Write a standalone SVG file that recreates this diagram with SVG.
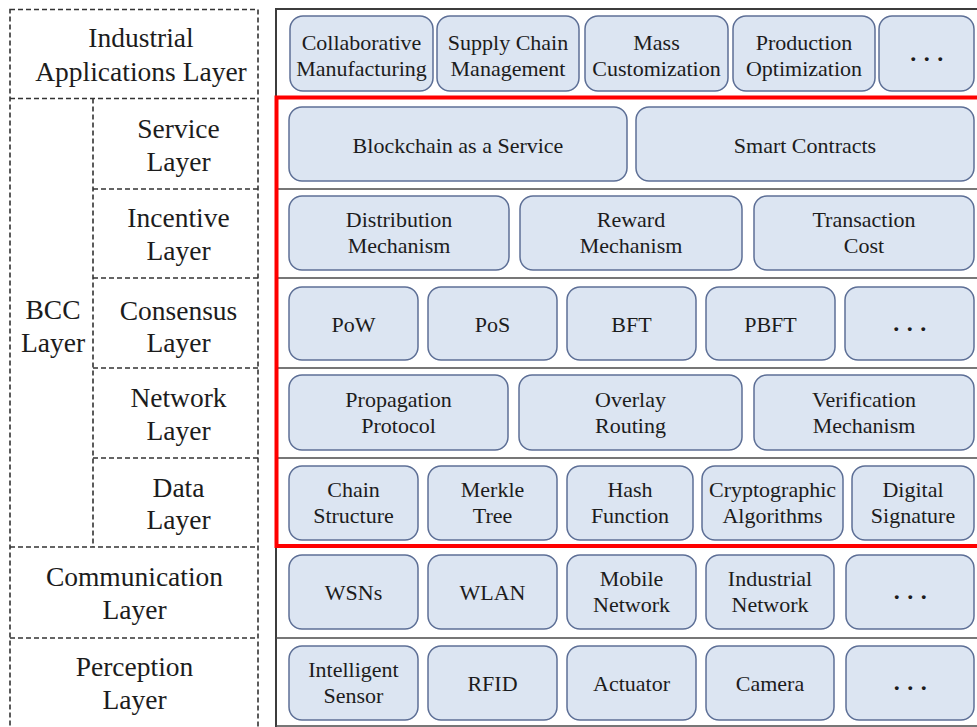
<svg xmlns="http://www.w3.org/2000/svg" width="977" height="727" viewBox="0 0 977 727" font-family="'Liberation Serif', 'Times New Roman', serif">
  <style>
    svg { font-family: "Liberation Serif", "Times New Roman", serif; }
    text { font-family: "Liberation Serif", "Times New Roman", serif; fill: #1c1c1c; text-anchor: middle; }
    .bg { fill: #ffffff; }
    .dash { fill: none; stroke: #333333; stroke-width: 1.6; stroke-dasharray: 5 3; }
    .frame { fill: none; stroke: #3c3c3c; stroke-width: 2; }
    .sep { stroke: #4a4a4a; stroke-width: 1.6; }
    .bcc { fill: none; stroke: #ff0000; stroke-width: 4; }
    .node rect { fill: #dce5f2; stroke: #5d6f96; stroke-width: 1.5; }
    .lbl { font-size: 27.5px; }
    .nt { font-size: 22px; }
    .dots { font-size: 24px; font-weight: bold; letter-spacing: 7.5px; }
  </style>

  <rect class="bg" x="0" y="0" width="977" height="727"/>

  <!-- Left column: layer names in dashed cells -->
  <g id="layer-labels">
    <rect class="dash" x="10" y="9.5" width="248" height="730"/>
    <line class="dash" x1="10" y1="98.5" x2="258" y2="98.5"/>
    <line class="dash" x1="93" y1="189" x2="258" y2="189"/>
    <line class="dash" x1="93" y1="278" x2="258" y2="278"/>
    <line class="dash" x1="93" y1="368" x2="258" y2="368"/>
    <line class="dash" x1="93" y1="458" x2="258" y2="458"/>
    <line class="dash" x1="10" y1="547" x2="258" y2="547"/>
    <line class="dash" x1="10" y1="638" x2="258" y2="638"/>
    <line class="dash" x1="93" y1="98.5" x2="93" y2="547"/>

    <text class="lbl"><tspan x="141" y="47">Industrial</tspan><tspan x="141" y="81">Applications Layer</tspan></text>
    <text class="lbl"><tspan x="178.5" y="138">Service</tspan><tspan x="178.5" y="171">Layer</tspan></text>
    <text class="lbl"><tspan x="178.5" y="227">Incentive</tspan><tspan x="178.5" y="260">Layer</tspan></text>
    <text class="lbl"><tspan x="178.5" y="320">Consensus</tspan><tspan x="178.5" y="352">Layer</tspan></text>
    <text class="lbl"><tspan x="178.5" y="407">Network</tspan><tspan x="178.5" y="440">Layer</tspan></text>
    <text class="lbl"><tspan x="178.5" y="497">Data</tspan><tspan x="178.5" y="529">Layer</tspan></text>
    <text class="lbl"><tspan x="53" y="319">BCC</tspan><tspan x="53" y="352">Layer</tspan></text>
    <text class="lbl"><tspan x="134.5" y="586">Communication</tspan><tspan x="134.5" y="619">Layer</tspan></text>
    <text class="lbl"><tspan x="134.5" y="676">Perception</tspan><tspan x="134.5" y="709">Layer</tspan></text>
  </g>

  <!-- Right panel frame and row separators -->
  <g id="connectors">
    <line class="frame" x1="276" y1="9" x2="977" y2="9"/>
    <line class="frame" x1="276" y1="8" x2="276" y2="727"/>
    <line class="sep" x1="276" y1="189" x2="977" y2="189"/>
    <line class="sep" x1="276" y1="278" x2="977" y2="278"/>
    <line class="sep" x1="276" y1="368" x2="977" y2="368"/>
    <line class="sep" x1="276" y1="458" x2="977" y2="458"/>
    <line class="sep" x1="276" y1="638" x2="977" y2="638"/>
    <line class="sep" x1="276" y1="726" x2="977" y2="726"/>
    <rect class="bcc" x="276.5" y="97.5" width="710" height="448.5"/>
  </g>

  <!-- Industrial Applications Layer -->
  <g id="collaborative-manufacturing" class="node"><rect x="290" y="16" width="143" height="75" rx="13"/><text class="nt"><tspan x="361.5" y="50">Collaborative</tspan><tspan x="361.5" y="76">Manufacturing</tspan></text></g>
  <g id="supply-chain-management" class="node"><rect x="437" y="16" width="142" height="75" rx="13"/><text class="nt"><tspan x="508" y="50">Supply Chain</tspan><tspan x="508" y="76">Management</tspan></text></g>
  <g id="mass-customization" class="node"><rect x="585" y="16" width="143" height="75" rx="13"/><text class="nt"><tspan x="656.5" y="50">Mass</tspan><tspan x="656.5" y="76">Customization</tspan></text></g>
  <g id="production-optimization" class="node"><rect x="733" y="16" width="142" height="75" rx="13"/><text class="nt"><tspan x="804" y="50">Production</tspan><tspan x="804" y="76">Optimization</tspan></text></g>
  <g id="apps-more" class="node"><rect x="879" y="16" width="95" height="75" rx="13"/><text class="dots" x="930.5" y="61">...</text></g>

  <!-- Service Layer -->
  <g id="baas" class="node"><rect x="289" y="107" width="338" height="74" rx="13"/><text class="nt" x="458" y="153">Blockchain as a Service</text></g>
  <g id="smart-contracts" class="node"><rect x="636" y="107" width="338" height="74" rx="13"/><text class="nt" x="805" y="153">Smart Contracts</text></g>

  <!-- Incentive Layer -->
  <g id="distribution-mechanism" class="node"><rect x="289" y="196" width="220" height="74" rx="13"/><text class="nt"><tspan x="399" y="227">Distribution</tspan><tspan x="399" y="253">Mechanism</tspan></text></g>
  <g id="reward-mechanism" class="node"><rect x="520" y="196" width="222" height="74" rx="13"/><text class="nt"><tspan x="631" y="227">Reward</tspan><tspan x="631" y="253">Mechanism</tspan></text></g>
  <g id="transaction-cost" class="node"><rect x="754" y="196" width="220" height="74" rx="13"/><text class="nt"><tspan x="864" y="227">Transaction</tspan><tspan x="864" y="253">Cost</tspan></text></g>

  <!-- Consensus Layer -->
  <g id="pow" class="node"><rect x="289" y="287" width="129" height="73" rx="13"/><text class="nt" x="353.5" y="332">PoW</text></g>
  <g id="pos" class="node"><rect x="428" y="287" width="129" height="73" rx="13"/><text class="nt" x="492.5" y="332">PoS</text></g>
  <g id="bft" class="node"><rect x="567" y="287" width="129" height="73" rx="13"/><text class="nt" x="631.5" y="332">BFT</text></g>
  <g id="pbft" class="node"><rect x="706" y="287" width="129" height="73" rx="13"/><text class="nt" x="770.5" y="332">PBFT</text></g>
  <g id="consensus-more" class="node"><rect x="845" y="287" width="129" height="73" rx="13"/><text class="dots" x="913.5" y="331">...</text></g>

  <!-- Network Layer -->
  <g id="propagation-protocol" class="node"><rect x="289" y="375" width="219" height="75" rx="13"/><text class="nt"><tspan x="398.5" y="407">Propagation</tspan><tspan x="398.5" y="433">Protocol</tspan></text></g>
  <g id="overlay-routing" class="node"><rect x="519" y="375" width="223" height="75" rx="13"/><text class="nt"><tspan x="630.5" y="407">Overlay</tspan><tspan x="630.5" y="433">Routing</tspan></text></g>
  <g id="verification-mechanism" class="node"><rect x="754" y="375" width="220" height="75" rx="13"/><text class="nt"><tspan x="864" y="407">Verification</tspan><tspan x="864" y="433">Mechanism</tspan></text></g>

  <!-- Data Layer -->
  <g id="chain-structure" class="node"><rect x="289" y="466" width="129" height="74" rx="13"/><text class="nt"><tspan x="353.5" y="497">Chain</tspan><tspan x="353.5" y="523">Structure</tspan></text></g>
  <g id="merkle-tree" class="node"><rect x="428" y="466" width="129" height="74" rx="13"/><text class="nt"><tspan x="492.5" y="497">Merkle</tspan><tspan x="492.5" y="523">Tree</tspan></text></g>
  <g id="hash-function" class="node"><rect x="567" y="466" width="126" height="74" rx="13"/><text class="nt"><tspan x="630" y="497">Hash</tspan><tspan x="630" y="523">Function</tspan></text></g>
  <g id="cryptographic-algorithms" class="node"><rect x="702" y="466" width="141" height="74" rx="13"/><text class="nt"><tspan x="772.5" y="497">Cryptographic</tspan><tspan x="772.5" y="523">Algorithms</tspan></text></g>
  <g id="digital-signature" class="node"><rect x="852" y="466" width="122" height="74" rx="13"/><text class="nt"><tspan x="913" y="497">Digital</tspan><tspan x="913" y="523">Signature</tspan></text></g>

  <!-- Communication Layer -->
  <g id="wsns" class="node"><rect x="289" y="555" width="129" height="74" rx="13"/><text class="nt" x="353.5" y="600">WSNs</text></g>
  <g id="wlan" class="node"><rect x="428" y="555" width="129" height="74" rx="13"/><text class="nt" x="492.5" y="600">WLAN</text></g>
  <g id="mobile-network" class="node"><rect x="567" y="555" width="129" height="74" rx="13"/><text class="nt"><tspan x="631.5" y="586">Mobile</tspan><tspan x="631.5" y="612">Network</tspan></text></g>
  <g id="industrial-network" class="node"><rect x="706" y="555" width="128" height="74" rx="13"/><text class="nt"><tspan x="770" y="586">Industrial</tspan><tspan x="770" y="612">Network</tspan></text></g>
  <g id="communication-more" class="node"><rect x="846" y="555" width="128" height="74" rx="13"/><text class="dots" x="914" y="599">...</text></g>

  <!-- Perception Layer -->
  <g id="intelligent-sensor" class="node"><rect x="289" y="646" width="129" height="74" rx="13"/><text class="nt"><tspan x="353.5" y="677">Intelligent</tspan><tspan x="353.5" y="703">Sensor</tspan></text></g>
  <g id="rfid" class="node"><rect x="428" y="646" width="129" height="74" rx="13"/><text class="nt" x="492.5" y="691">RFID</text></g>
  <g id="actuator" class="node"><rect x="567" y="646" width="129" height="74" rx="13"/><text class="nt" x="631.5" y="691">Actuator</text></g>
  <g id="camera" class="node"><rect x="706" y="646" width="128" height="74" rx="13"/><text class="nt" x="770" y="691">Camera</text></g>
  <g id="perception-more" class="node"><rect x="846" y="646" width="128" height="74" rx="13"/><text class="dots" x="914" y="690">...</text></g>
</svg>
